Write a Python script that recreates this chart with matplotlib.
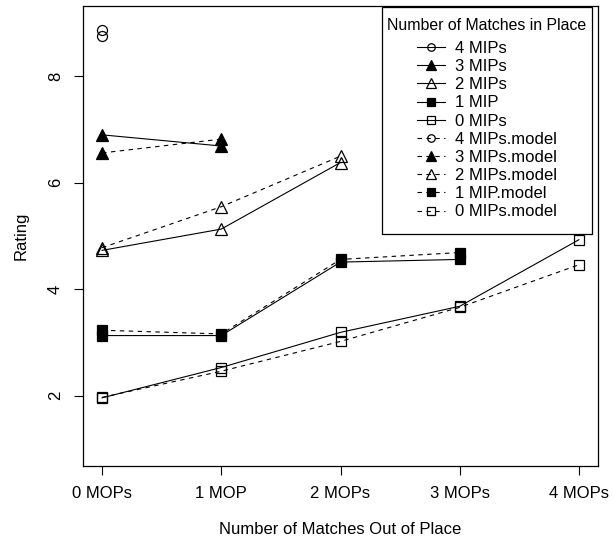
import numpy as np
import matplotlib
matplotlib.use('Agg')
import matplotlib.pyplot as plt
from matplotlib.patches import Rectangle

plt.rcParams['font.family'] = ['Liberation Sans', 'DejaVu Sans']

mop_labels = ['0 MOPs', '1 MOP', '2 MOPs', '3 MOPs', '4 MOPs']

# observed ratings per number of matches in place (index = MOPs)
mip4 = [8.76]
mip3 = [6.90, 6.69]
mip2 = [4.73, 5.13, 6.38]
mip1 = [3.13, 3.13, 4.51, 4.56]
mip0 = [1.96, 2.53, 3.19, 3.68, 4.93]

# model predictions
mip4_model = [8.87]
mip3_model = [6.56, 6.82]
mip2_model = [4.78, 5.55, 6.50]
mip1_model = [3.23, 3.16, 4.56, 4.69]
mip0_model = [1.97, 2.46, 3.02, 3.66, 4.46]

series = [
    ('4 MIPs', mip4, 'o', 'none', 7.2),
    ('3 MIPs', mip3, '^', 'black', 8.8),
    ('2 MIPs', mip2, '^', 'none', 8.8),
    ('1 MIP', mip1, 's', 'black', 7.7),
    ('0 MIPs', mip0, 's', 'none', 7.2),
]
models = [mip4_model, mip3_model, mip2_model, mip1_model, mip0_model]

fig = plt.figure(figsize=(6.13, 5.39), dpi=100)
ax = fig.add_axes([83/613, 73/539, 515/613, 460/539])

handles = []
for name, vals, mk, fc, ms in series:
    x = np.arange(len(vals))
    h, = ax.plot(x, vals, color='black', lw=0.8, marker=mk, ms=ms,
                 mfc=fc, mec='black', mew=0.9, label=name)
    handles.append(h)
for (name, vals, mk, fc, ms), mvals in zip(series, models):
    x = np.arange(len(mvals))
    h, = ax.plot(x, mvals, color='black', lw=0.8, ls=(0, (4, 4)), marker=mk,
                 ms=ms, mfc=fc, mec='black', mew=0.9, label=name + '.model')
    handles.append(h)

ax.set_xlim(-0.16, 4.16)
ax.set_ylim(0.68, 9.32)
ax.set_xticks(range(5))
ax.set_xticklabels(mop_labels, fontsize=12)
ax.set_yticks([2, 4, 6, 8])
ax.set_yticklabels(['2', '4', '6', '8'], fontsize=12, rotation=90, va='center')
ax.tick_params(direction='out', length=6.5, width=0.8, pad=8)
for sp in ax.spines.values():
    sp.set_linewidth(0.9)

ax.set_xlabel('Number of Matches Out of Place', fontsize=12, labelpad=15)
ax.set_ylabel('Rating', fontsize=12, labelpad=14)

# legend box (R style: square frame, roomy bottom)
frame = Rectangle((382/613, 305/539), 210/613, 227/539,
                  transform=fig.transFigure, facecolor='white',
                  edgecolor='black', lw=0.9, zorder=4, clip_on=False)
ax.add_artist(frame)
leg = ax.legend(handles=handles, title='Number of Matches in Place',
                loc='upper center', bbox_to_anchor=(487/613, 521.5/539),
                bbox_transform=fig.transFigure, fontsize=12, title_fontsize=11.4,
                frameon=False, handlelength=1.7, handletextpad=0.6,
                labelspacing=0.19, borderpad=0, borderaxespad=0,
                markerscale=0.75)
leg._legend_box.sep = 6.0  # extra gap under the title
leg.set_zorder(5)

fig.savefig('out.png', dpi=100)
